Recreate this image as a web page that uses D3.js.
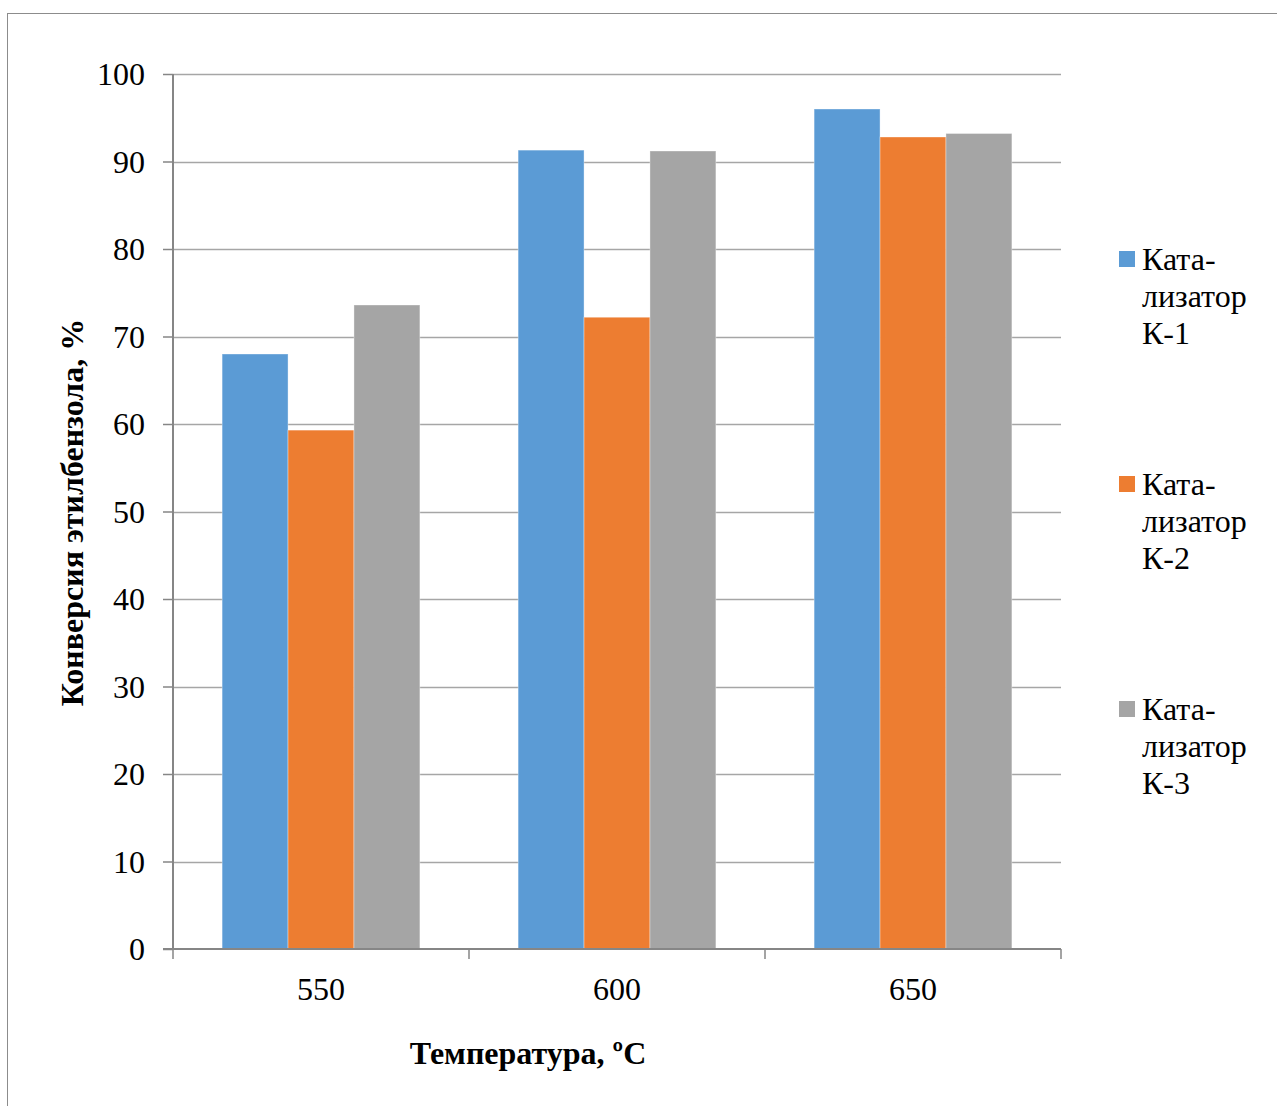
<!DOCTYPE html>
<html>
<head>
<meta charset="utf-8">
<script src="https://cdn.jsdelivr.net/npm/d3@7"></script>
<style>
  html, body { margin: 0; padding: 0; background: #fff; }
  svg { display: block; }
  text { font-family: "Liberation Serif", "Times New Roman", serif; fill: #000; }
</style>
</head>
<body>
<svg id="chart" width="1277" height="1106"></svg>
<script>
// Conversion of ethylbenzene by catalyst and temperature
const temperatures = ["550", "600", "650"];
const catalysts = ["К-1", "К-2", "К-3"];
const seriesK1 = [68.0, 91.3, 96.0];
const seriesK2 = [59.3, 72.2, 92.8];
const seriesK3 = [73.6, 91.2, 93.2];
const yTicks = [0, 10, 20, 30, 40, 50, 60, 70, 80, 90, 100];
const colors = ["#5b9bd5", "#ed7d31", "#a5a5a5"];

const series = [seriesK1, seriesK2, seriesK3];
const FONT = "'Liberation Serif', 'Times New Roman', serif";

const svg = d3.select("#chart");

// outer frame (only top and left edges fall inside the page)
svg.append("rect")
  .attr("x", 7.5).attr("y", 13.5)
  .attr("width", 1300).attr("height", 1200)
  .attr("fill", "none").attr("stroke", "#8c8c8c").attr("stroke-width", 1);

const plot = { left: 173, right: 1061, top: 74, bottom: 949 };

const x = d3.scaleBand().domain(temperatures).range([plot.left, plot.right])
  .paddingInner(0).paddingOuter(0);
const xInner = d3.scaleBand().domain(catalysts).range([0, x.bandwidth()])
  .paddingInner(0).paddingOuter(0.745);
const y = d3.scaleLinear().domain([0, 100]).range([plot.bottom, plot.top]);

// horizontal gridlines
svg.append("g").selectAll("line").data(yTicks.filter(d => d > 0)).join("line")
  .attr("x1", plot.left).attr("x2", plot.right)
  .attr("y1", d => Math.round(y(d)) + 0.5).attr("y2", d => Math.round(y(d)) + 0.5)
  .attr("stroke", "#a6a6a6").attr("stroke-width", 1.5);

// bars
const groups = svg.append("g").selectAll("g").data(temperatures).join("g")
  .attr("transform", d => `translate(${x(d)},0)`);
groups.selectAll("rect")
  .data((t, i) => catalysts.map((c, j) => ({ c, j, v: series[j][i] })))
  .join("rect")
  .attr("x", d => xInner(d.c))
  .attr("width", xInner.bandwidth())
  .attr("y", d => y(d.v))
  .attr("height", d => y(0) - y(d.v))
  .attr("fill", d => colors[d.j])
  .attr("stroke", "#ffffff").attr("stroke-opacity", 0.35).attr("stroke-width", 1);

// y axis
const yAxis = d3.axisLeft(y).tickValues(yTicks).tickSize(10).tickPadding(18)
  .tickFormat(d3.format("d"));
const gy = svg.append("g").attr("transform", `translate(${plot.left},0)`).call(yAxis)
  .attr("font-family", FONT).attr("font-size", 32);
gy.select(".domain").attr("stroke", "#868686").attr("stroke-width", 2)
  .attr("d", `M0,${plot.top}V${plot.bottom}`);
gy.selectAll(".tick line").attr("stroke", "#868686").attr("stroke-width", 1.5);
gy.selectAll(".tick text")
  .style("font-family", FONT)
  .style("font-size", "32px").attr("fill", "#000").attr("dy", "0.33em");

// x axis with ticks at band boundaries
const gx = svg.append("g").attr("transform", `translate(0,${plot.bottom})`);
gx.append("line").attr("x1", plot.left - 10).attr("x2", plot.right)
  .attr("y1", 0).attr("y2", 0).attr("stroke", "#868686").attr("stroke-width", 2);
const bounds = temperatures.map(t => x(t)).concat([plot.right]);
gx.selectAll("line.tk").data(bounds).join("line").attr("class", "tk")
  .attr("x1", d => d).attr("x2", d => d).attr("y1", 0).attr("y2", 10)
  .attr("stroke", "#868686").attr("stroke-width", 1.5);
gx.selectAll("text").data(temperatures).join("text")
  .attr("x", d => x(d) + x.bandwidth() / 2).attr("y", 51)
  .attr("text-anchor", "middle").style("font-size", "32px").text(d => d);

// axis titles
svg.append("text")
  .attr("transform", `translate(83,${(plot.top + plot.bottom) / 2 + 1}) rotate(-90)`)
  .attr("text-anchor", "middle").style("font-size", "32px").style("font-weight", "bold")
  .text("Конверсия этилбензола, %");
svg.append("text")
  .attr("x", 528).attr("y", 1064)
  .attr("text-anchor", "middle").style("font-size", "32px").style("font-weight", "bold")
  .text("Температура, ºС");

// legend
const legendTop = [259, 484, 709];
const legend = svg.append("g").selectAll("g").data(catalysts).join("g")
  .attr("transform", (d, i) => `translate(1119,${legendTop[i]})`);
legend.append("rect").attr("x", 0).attr("y", -8).attr("width", 16).attr("height", 16)
  .attr("fill", (d, i) => colors[i]);
legend.each(function (d) {
  const g = d3.select(this);
  ["Ката-", "лизатор", d].forEach((line, k) => {
    g.append("text").attr("x", 23).attr("y", 11 + k * 37)
      .style("font-size", "32px").text(line);
  });
});
</script>
</body>
</html>
